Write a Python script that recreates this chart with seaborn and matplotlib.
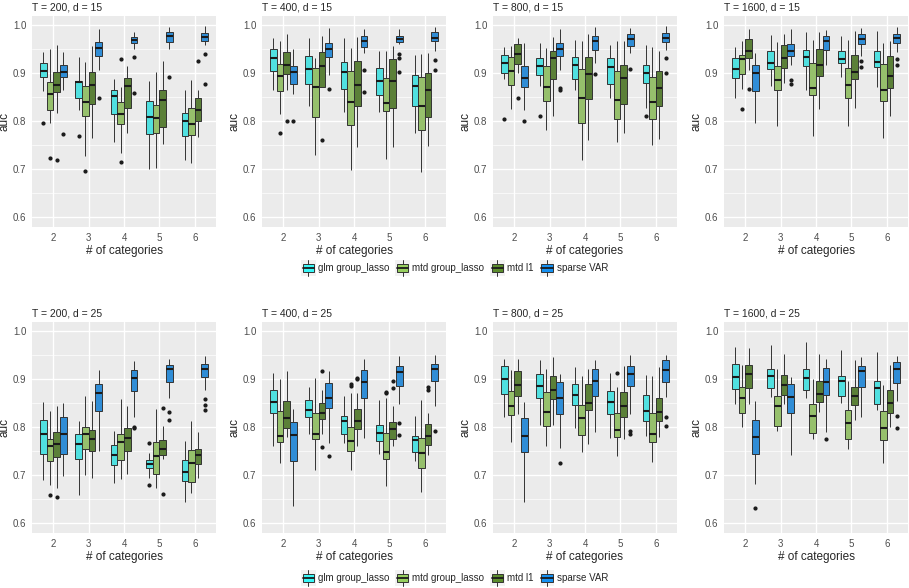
import numpy as np
import pandas as pd
import seaborn as sns
import matplotlib.pyplot as plt
from matplotlib.legend_handler import HandlerBase
from matplotlib.patches import Rectangle, Patch
from matplotlib.lines import Line2D

categories = ['2', '3', '4', '5', '6']
methods = ['glm group_lasso', 'mtd group_lasso', 'mtd l1', 'sparse VAR']
colors = ['#38F8F8', '#96CE5E', '#5B8C2C', '#1490F2']

titles = ['T = 200, d = 15', 'T = 400, d = 15', 'T = 800, d = 15', 'T = 1600, d = 15',
          'T = 200, d = 25', 'T = 400, d = 25', 'T = 800, d = 25', 'T = 1600, d = 25']

# box summaries: (lower whisker, q1, median, q3, upper whisker)
# rows go category by category, methods in the order above
t200_d15 = [
    (0.862, 0.892, 0.905, 0.921, 0.944), (0.796, 0.822, 0.856, 0.881, 0.950),
    (0.817, 0.860, 0.876, 0.903, 0.959), (0.865, 0.892, 0.903, 0.917, 0.944),
    (0.824, 0.849, 0.881, 0.884, 0.933), (0.728, 0.811, 0.839, 0.872, 0.923),
    (0.765, 0.835, 0.875, 0.903, 0.957), (0.906, 0.936, 0.953, 0.964, 0.991),
    (0.756, 0.815, 0.853, 0.864, 0.888), (0.733, 0.794, 0.815, 0.840, 0.870),
    (0.776, 0.828, 0.874, 0.889, 0.915), (0.951, 0.962, 0.968, 0.975, 0.985),
    (0.700, 0.772, 0.808, 0.841, 0.884), (0.702, 0.775, 0.806, 0.834, 0.903),
    (0.753, 0.788, 0.843, 0.865, 0.926), (0.950, 0.965, 0.978, 0.985, 0.996),
    (0.719, 0.768, 0.799, 0.817, 0.864), (0.712, 0.770, 0.794, 0.827, 0.886),
    (0.767, 0.799, 0.824, 0.849, 0.865), (0.959, 0.967, 0.975, 0.983, 0.999),
]
t200_d15_out = [('2', 0, 0.796), ('2', 1, 0.723), ('2', 2, 0.719), ('2', 3, 0.772),
                ('3', 0, 0.769), ('3', 1, 0.696), ('3', 3, 0.848),
                ('4', 1, 0.930), ('4', 1, 0.715), ('4', 3, 0.933), ('4', 3, 0.858),
                ('5', 3, 0.892), ('6', 2, 0.926), ('6', 3, 0.939), ('6', 3, 0.878)]

t400_d15 = [
    (0.864, 0.904, 0.931, 0.950, 0.973), (0.815, 0.863, 0.894, 0.919, 0.966),
    (0.864, 0.899, 0.917, 0.943, 0.981), (0.857, 0.877, 0.902, 0.914, 0.950),
    (0.832, 0.878, 0.909, 0.935, 0.974), (0.730, 0.808, 0.871, 0.910, 0.931),
    (0.761, 0.871, 0.914, 0.943, 0.978), (0.897, 0.933, 0.951, 0.963, 0.994),
    (0.818, 0.867, 0.903, 0.923, 0.973), (0.697, 0.792, 0.840, 0.905, 0.952),
    (0.746, 0.831, 0.875, 0.926, 0.975), (0.942, 0.954, 0.967, 0.978, 0.992),
    (0.818, 0.854, 0.883, 0.910, 0.947), (0.721, 0.820, 0.838, 0.890, 0.947),
    (0.746, 0.827, 0.883, 0.929, 0.956), (0.960, 0.965, 0.972, 0.978, 0.992),
    (0.776, 0.832, 0.874, 0.895, 0.938), (0.693, 0.781, 0.832, 0.892, 0.940),
    (0.747, 0.808, 0.865, 0.900, 0.942), (0.945, 0.966, 0.973, 0.985, 0.996),
]
t400_d15_out = [('2', 1, 0.776), ('2', 2, 0.801), ('2', 3, 0.801), ('3', 3, 0.867),
                ('4', 3, 0.906), ('4', 3, 0.860), ('5', 3, 0.939), ('5', 3, 0.931),
                ('5', 3, 0.903), ('6', 3, 0.928), ('6', 3, 0.906)]

t800_d15 = [
    (0.888, 0.900, 0.922, 0.938, 0.954), (0.826, 0.876, 0.905, 0.933, 0.956),
    (0.901, 0.919, 0.940, 0.960, 0.973), (0.822, 0.870, 0.890, 0.915, 0.963),
    (0.872, 0.895, 0.915, 0.931, 0.963), (0.782, 0.842, 0.871, 0.914, 0.953),
    (0.811, 0.888, 0.931, 0.947, 0.975), (0.907, 0.935, 0.951, 0.963, 0.992),
    (0.865, 0.888, 0.917, 0.933, 0.969), (0.719, 0.796, 0.847, 0.908, 0.966),
    (0.761, 0.846, 0.899, 0.933, 0.981), (0.921, 0.948, 0.967, 0.977, 0.996),
    (0.847, 0.877, 0.912, 0.931, 0.959), (0.756, 0.804, 0.844, 0.905, 0.966),
    (0.776, 0.836, 0.890, 0.917, 0.966), (0.942, 0.956, 0.971, 0.981, 0.994),
    (0.827, 0.879, 0.900, 0.917, 0.959), (0.749, 0.805, 0.840, 0.892, 0.954),
    (0.763, 0.831, 0.869, 0.905, 0.945), (0.949, 0.964, 0.974, 0.983, 0.999),
]
t800_d15_out = [('2', 0, 0.805), ('2', 2, 0.847), ('2', 3, 0.801), ('3', 0, 0.811),
                ('3', 3, 0.869), ('3', 3, 0.864), ('4', 3, 0.899), ('5', 3, 0.909),
                ('6', 0, 0.810), ('6', 3, 0.931), ('6', 3, 0.901)]

t1600_d15 = [
    (0.849, 0.890, 0.908, 0.931, 0.954), (0.867, 0.899, 0.929, 0.937, 0.966),
    (0.906, 0.931, 0.947, 0.972, 0.992), (0.796, 0.862, 0.901, 0.917, 0.942),
    (0.874, 0.908, 0.921, 0.947, 0.980), (0.790, 0.864, 0.886, 0.915, 0.965),
    (0.879, 0.910, 0.931, 0.959, 0.982), (0.916, 0.935, 0.947, 0.961, 0.992),
    (0.865, 0.915, 0.933, 0.949, 0.985), (0.768, 0.855, 0.869, 0.922, 0.968),
    (0.826, 0.894, 0.917, 0.950, 0.985), (0.916, 0.949, 0.966, 0.978, 0.990),
    (0.892, 0.921, 0.929, 0.945, 0.978), (0.789, 0.848, 0.876, 0.910, 0.968),
    (0.827, 0.888, 0.903, 0.937, 0.987), (0.936, 0.960, 0.972, 0.981, 0.994),
    (0.870, 0.912, 0.924, 0.947, 0.987), (0.764, 0.842, 0.865, 0.919, 0.963),
    (0.810, 0.869, 0.893, 0.935, 0.966), (0.943, 0.963, 0.973, 0.981, 0.997),
]
t1600_d15_out = [('2', 1, 0.826), ('2', 2, 0.867), ('3', 3, 0.885), ('3', 3, 0.878),
                 ('5', 3, 0.926), ('5', 3, 0.913), ('6', 3, 0.929), ('6', 3, 0.916)]

t200_d25 = [
    (0.690, 0.743, 0.785, 0.815, 0.853), (0.680, 0.729, 0.760, 0.775, 0.833),
    (0.672, 0.738, 0.765, 0.789, 0.843), (0.697, 0.744, 0.786, 0.821, 0.851),
    (0.659, 0.734, 0.765, 0.785, 0.812), (0.700, 0.754, 0.786, 0.801, 0.865),
    (0.694, 0.751, 0.775, 0.794, 0.855), (0.750, 0.833, 0.871, 0.890, 0.919),
    (0.684, 0.720, 0.742, 0.762, 0.792), (0.692, 0.732, 0.769, 0.785, 0.858),
    (0.701, 0.751, 0.778, 0.798, 0.844), (0.820, 0.876, 0.902, 0.918, 0.938),
    (0.694, 0.714, 0.723, 0.732, 0.745), (0.672, 0.701, 0.740, 0.769, 0.837),
    (0.733, 0.742, 0.754, 0.773, 0.803), (0.861, 0.893, 0.920, 0.930, 0.941),
    (0.644, 0.687, 0.706, 0.732, 0.771), (0.662, 0.686, 0.725, 0.752, 0.812),
    (0.693, 0.722, 0.742, 0.754, 0.790), (0.878, 0.905, 0.920, 0.932, 0.948),
]
t200_d25_out = [('2', 1, 0.659), ('2', 2, 0.655), ('4', 3, 0.800), ('4', 3, 0.797),
                ('5', 0, 0.767), ('5', 0, 0.680), ('5', 2, 0.840), ('5', 2, 0.660),
                ('5', 3, 0.832), ('5', 3, 0.814), ('6', 3, 0.858), ('6', 3, 0.845),
                ('6', 3, 0.836)]

t400_d25 = [
    (0.760, 0.830, 0.852, 0.878, 0.912), (0.726, 0.769, 0.781, 0.833, 0.900),
    (0.780, 0.798, 0.818, 0.855, 0.916), (0.636, 0.729, 0.783, 0.810, 0.838),
    (0.785, 0.820, 0.835, 0.857, 0.884), (0.710, 0.776, 0.785, 0.830, 0.903),
    (0.785, 0.816, 0.830, 0.851, 0.878), (0.767, 0.840, 0.860, 0.891, 0.917),
    (0.767, 0.785, 0.812, 0.823, 0.864), (0.710, 0.751, 0.770, 0.801, 0.871),
    (0.760, 0.796, 0.813, 0.837, 0.870), (0.777, 0.860, 0.894, 0.918, 0.941),
    (0.744, 0.770, 0.787, 0.805, 0.856), (0.678, 0.733, 0.748, 0.787, 0.860),
    (0.760, 0.776, 0.795, 0.810, 0.843), (0.847, 0.886, 0.914, 0.928, 0.948),
    (0.730, 0.748, 0.773, 0.782, 0.822), (0.665, 0.715, 0.745, 0.778, 0.856),
    (0.741, 0.762, 0.782, 0.806, 0.830), (0.843, 0.895, 0.921, 0.932, 0.950),
]
t400_d25_out = [('3', 2, 0.916), ('3', 2, 0.758), ('3', 3, 0.740),
                ('4', 1, 0.890), ('4', 1, 0.885), ('4', 2, 0.903), ('4', 2, 0.901),
                ('5', 1, 0.873), ('5', 1, 0.871), ('5', 2, 0.897), ('5', 2, 0.881),
                ('5', 3, 0.808), ('5', 3, 0.784), ('6', 2, 0.884), ('6', 2, 0.877),
                ('6', 3, 0.792)]

t800_d25 = [
    (0.820, 0.868, 0.900, 0.927, 0.942), (0.768, 0.825, 0.843, 0.876, 0.918),
    (0.827, 0.865, 0.887, 0.917, 0.941), (0.643, 0.747, 0.782, 0.818, 0.853),
    (0.805, 0.861, 0.885, 0.911, 0.940), (0.760, 0.803, 0.832, 0.873, 0.921),
    (0.805, 0.859, 0.877, 0.907, 0.945), (0.756, 0.828, 0.860, 0.894, 0.911),
    (0.797, 0.845, 0.867, 0.889, 0.925), (0.747, 0.784, 0.818, 0.846, 0.907),
    (0.765, 0.835, 0.850, 0.889, 0.922), (0.790, 0.864, 0.895, 0.921, 0.940),
    (0.777, 0.827, 0.853, 0.875, 0.913), (0.740, 0.779, 0.794, 0.829, 0.883),
    (0.775, 0.820, 0.843, 0.872, 0.927), (0.828, 0.885, 0.911, 0.928, 0.951),
    (0.782, 0.813, 0.833, 0.866, 0.908), (0.727, 0.768, 0.785, 0.829, 0.907),
    (0.780, 0.813, 0.832, 0.860, 0.925), (0.862, 0.894, 0.918, 0.939, 0.950),
]
t800_d25_out = [('3', 3, 0.725), ('5', 1, 0.913), ('5', 3, 0.792), ('5', 3, 0.785),
                ('6', 3, 0.820), ('6', 3, 0.802)]

t1600_d25 = [
    (0.848, 0.880, 0.905, 0.932, 0.966), (0.799, 0.829, 0.860, 0.883, 0.929),
    (0.849, 0.882, 0.910, 0.930, 0.965), (0.681, 0.744, 0.779, 0.814, 0.855),
    (0.862, 0.881, 0.906, 0.921, 0.971), (0.792, 0.802, 0.843, 0.865, 0.921),
    (0.847, 0.867, 0.888, 0.909, 0.953), (0.742, 0.829, 0.862, 0.890, 0.905),
    (0.860, 0.877, 0.903, 0.920, 0.977), (0.776, 0.787, 0.823, 0.847, 0.900),
    (0.832, 0.852, 0.868, 0.895, 0.952), (0.790, 0.866, 0.893, 0.924, 0.942),
    (0.850, 0.864, 0.895, 0.907, 0.960), (0.754, 0.776, 0.808, 0.835, 0.897),
    (0.814, 0.845, 0.865, 0.884, 0.940), (0.820, 0.884, 0.916, 0.928, 0.945),
    (0.835, 0.849, 0.882, 0.895, 0.956), (0.724, 0.773, 0.797, 0.834, 0.887),
    (0.801, 0.829, 0.850, 0.878, 0.930), (0.855, 0.891, 0.920, 0.935, 0.948),
]
t1600_d25_out = [('2', 3, 0.632), ('4', 3, 0.774), ('6', 3, 0.823), ('6', 3, 0.797)]

panels = [(t200_d15, t200_d15_out), (t400_d15, t400_d15_out),
          (t800_d15, t800_d15_out), (t1600_d15, t1600_d15_out),
          (t200_d25, t200_d25_out), (t400_d25, t400_d25_out),
          (t800_d25, t800_d25_out), (t1600_d25, t1600_d25_out)]


def to_long(stats, outs):
    # each box becomes a sample whose quartiles/whiskers equal the read summary
    rows = []
    for i, (lo, q1, med, q3, hi) in enumerate(stats):
        cat, m = categories[i // 4], i % 4
        vals = [lo] + [q1] * 10 + [med] * 10 + [q3] * 10 + [hi]
        vals += [v for c, mm, v in outs if c == cat and mm == m]
        rows += [(cat, methods[m], v) for v in vals]
    return pd.DataFrame(rows, columns=['cat', 'method', 'auc'])


sns.set_theme(style='darkgrid', rc={'axes.facecolor': '#EBEBEB', 'grid.color': 'white'})
plt.rcParams['font.family'] = ['Liberation Sans', 'DejaVu Sans']

fig = plt.figure(figsize=(9.09, 5.88), dpi=100)
lefts = [32, 262, 493, 724]
bottoms = [227, 533]
pal = dict(zip(methods, colors))

for k, (stats, outs) in enumerate(panels):
    r, c = divmod(k, 4)
    ax = fig.add_axes([lefts[c] / 909, 1 - bottoms[r] / 588, 184 / 909, 211 / 588])
    df = to_long(stats, outs)
    sns.boxplot(data=df, x='cat', y='auc', hue='method', order=categories,
                hue_order=methods, palette=pal, width=0.75, gap=0, whis=1.5,
                linecolor='#333333', linewidth=0.7, fliersize=2, showcaps=False,
                flierprops=dict(marker='o', markerfacecolor='#1a1a1a',
                                markeredgecolor='#1a1a1a'),
                medianprops=dict(color='#1a1a1a', linewidth=1.5),
                legend=False, ax=ax)
    ax.set_xlim(-0.6, 4.6)
    ax.set_ylim(0.579, 1.019)
    ax.set_yticks([0.6, 0.7, 0.8, 0.9, 1.0])
    ax.set_yticklabels(['0.6', '0.7', '0.8', '0.9', '1.0'])
    ax.set_yticks([0.65, 0.75, 0.85, 0.95], minor=True)
    ax.grid(which='major', color='white', linewidth=1.0)
    ax.grid(which='minor', axis='y', color='white', linewidth=0.5)
    ax.xaxis.grid(True, color='white', linewidth=1.0)
    ax.set_axisbelow(True)
    for s in ax.spines.values():
        s.set_visible(False)
    ax.tick_params(which='major', length=2.5, width=0.6, color='#333333',
                   labelsize=7, labelcolor='#4D4D4D', pad=1.5)
    ax.tick_params(which='minor', length=0)
    ax.set_xlabel('# of categories', fontsize=8.5, labelpad=1.5)
    ax.set_ylabel('auc', fontsize=8.5, labelpad=2)
    ax.set_title(titles[k], loc='left', fontsize=7.5, pad=4)


class BoxKey(HandlerBase):
    def create_artists(self, legend, orig, xd, yd, w, h, fs, trans):
        x0, y0 = -xd, -yd
        bg = Rectangle((x0, y0), w, h, facecolor='#F2F2F2', edgecolor='none', transform=trans)
        wl = Line2D([x0 + w / 2, x0 + w / 2], [y0, y0 + h], color='#333333', lw=0.7, transform=trans)
        box = Rectangle((x0 + 0.1 * w, y0 + 0.25 * h), 0.8 * w, 0.5 * h,
                        facecolor=orig.get_facecolor(), edgecolor='#333333', lw=0.7, transform=trans)
        med = Line2D([x0 + 0.1 * w, x0 + 0.9 * w], [y0 + h / 2, y0 + h / 2],
                     color='#1a1a1a', lw=1.3, transform=trans)
        return [bg, wl, box, med]


handles = [Patch(facecolor=col, label=m) for m, col in zip(methods, colors)]
for ly in [1 - 268 / 588, 1 - 578 / 588]:
    fig.legend(handles=handles, loc='center', bbox_to_anchor=(0.5, ly), ncol=4,
               frameon=False, fontsize=7, handlelength=1.5, handleheight=2.0,
               handletextpad=0.25, columnspacing=0.6, borderpad=0,
               handler_map={Patch: BoxKey()})

fig.savefig('out.png', dpi=100)
